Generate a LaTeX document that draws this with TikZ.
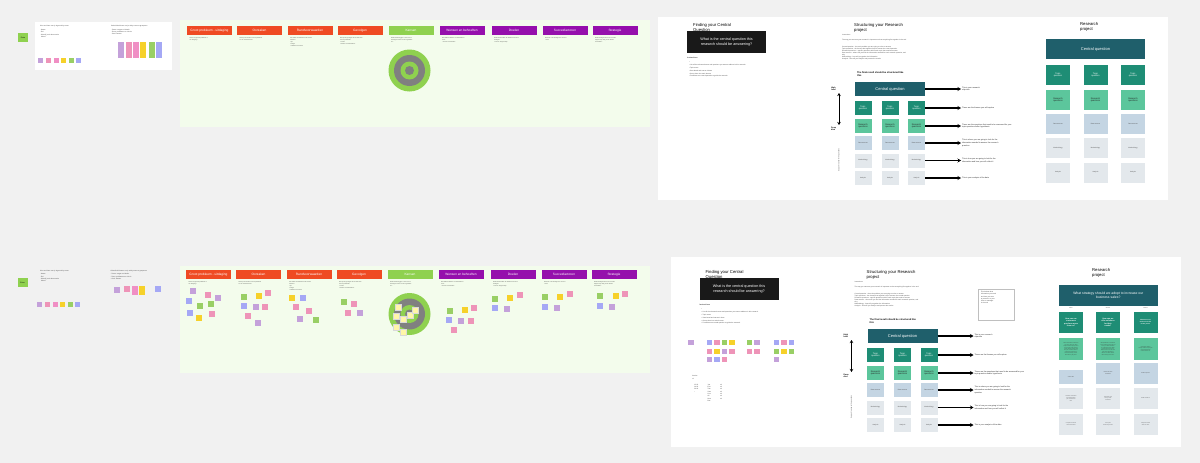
\documentclass[tikz,border=0pt]{standalone}
\usepackage{fontspec}
\setmainfont{Liberation Sans}
\usetikzlibrary{positioning,arrows.meta}

\definecolor{bg}{HTML}{F1F1F1}
\definecolor{panelgreen}{HTML}{F3FCEC}
\definecolor{hred}{HTML}{EF4B23}
\definecolor{hgreen}{HTML}{8FD14F}
\definecolor{hpurple}{HTML}{9510AC}
\definecolor{ringgrey}{HTML}{808080}
\definecolor{npurple}{HTML}{C4A1DA}
\definecolor{npink}{HTML}{EE94B8}
\definecolor{nhot}{HTML}{F08FC4}
\definecolor{nblue}{HTML}{A5A8F5}
\definecolor{ngreen}{HTML}{99CF65}
\definecolor{nyellow}{HTML}{F6D12A}
\definecolor{nlight}{HTML}{FFF6A8}
\definecolor{cqteal}{HTML}{1F5F6B}
\definecolor{tqteal}{HTML}{1E8D75}
\definecolor{rqgreen}{HTML}{5CC69C}
\definecolor{rowblue}{HTML}{C4D5E3}
\definecolor{rowgrey}{HTML}{E3E8EC}

\tikzset{
  hdr/.style={minimum width=45pt, minimum height=9.5pt, inner sep=0pt, text=white,
    font=\fontsize{3.2}{4}\selectfont},
  note/.style={minimum size=6pt, inner sep=0pt},
  tag/.style={fill=hgreen, minimum width=10pt, minimum height=9pt, inner sep=0pt,
    font=\fontsize{1.8}{2}\selectfont},
  tinytext/.style={font=\fontsize{1.6}{2.3}\selectfont, align=left, inner sep=0pt, text=black!75},
  arrowtext/.style={font=\fontsize{1.9}{2.9}\selectfont, align=left, inner sep=1pt, text=black!85},
  boardtitle/.style={font=\fontsize{4.2}{4.8}\selectfont, align=left, inner sep=0pt},
  cellbox/.style={minimum width=17pt, minimum height=14pt, inner sep=0pt, align=center,
    font=\fontsize{2.2}{2.7}\selectfont},
  bigcell/.style={cellbox, minimum width=24pt, minimum height=20pt},
  flow/.style={-{Stealth[length=3.5pt,width=4pt]}, line width=1.1pt},
}

% finding + structuring part, same on both boards
\newcommand{\structboard}[1]{%
  \node[boardtitle, anchor=north west] (#1find) at (693,23) {Finding your Central\\Question};
  \node[fill=black!90, minimum width=79pt, minimum height=22pt, inner sep=0pt, text=white,
    align=center, font=\fontsize{3.7}{4.7}\selectfont] (#1cqbox) at (726.5,42)
    {What is the central question this\\research should be answering?};
  \node[tinytext, anchor=north west, font=\bfseries\fontsize{1.8}{2.3}\selectfont] (#1instr) at (687,56.5) {Instructions};
  \node[tinytext, anchor=north west, font=\fontsize{1.6}{2.9}\selectfont] (#1steps) at (689,61.5)
    {•\\• List all the relevant themes and questions you want to address in this research\\• Topic areas\\• Start broad and narrow it down\\• Group them into main themes\\• Formulate one central question to guide the research};
  \node[boardtitle, anchor=north west] (#1struct) at (854,23) {Structuring your Research\\project};
  \node[tinytext, anchor=north west, font=\fontsize{1.6}{2.1}\selectfont] (#1sinstr) at (842,34.5)
    {Instructions\\[3pt]The way you structure your research is important so that everything fits together in the end\\[4pt]
     Central question - the main problem you are trying to solve or answer\\
     Topic questions - the themes that together help to answer the central question\\
     Research questions - specific questions within each topic that need an answer\\
     Data sources - where will you find the information needed for each research question, and\\why\\
     Methodology - how will you gather the information\\
     Analysis - how will you analyse and present the results};
  \node[anchor=north west, inner sep=0pt, align=left, font=\bfseries\fontsize{2.4}{2.9}\selectfont] (#1final) at (857,72)
    {The final result should be structured like\\this};
  \node[fill=cqteal, minimum width=70pt, minimum height=14pt, inner sep=0pt, text=white,
    font=\fontsize{4}{4.5}\selectfont] (#1cq) at (890,89) {Central question};
  \foreach \cl/\xx in {1/863,2/890,3/916.5} {
    \node[cellbox, fill=tqteal, text=white] (#1tq\cl) at (\xx,108) {Topic\\question};
    \node[cellbox, fill=rqgreen, text=black!85] (#1rq\cl) at (\xx,126) {Research\\questions};
    \node[cellbox, fill=rowblue, text=black!70, font=\fontsize{1.6}{2}\selectfont] (#1ds\cl) at (\xx,143) {Data sources};
    \node[cellbox, fill=rowgrey, text=black!70, font=\fontsize{1.6}{2}\selectfont] (#1mt\cl) at (\xx,160.5) {Methodology};
    \node[cellbox, fill=rowgrey, text=black!70, font=\fontsize{1.6}{2}\selectfont] (#1an\cl) at (\xx,178) {Analysis};
  }
  \node[arrowtext, anchor=west] (#1o1) at (961,89) {This is your research\\objective};
  \node[arrowtext, anchor=west] (#1o2) at (961,108) {These are the themes you will explore};
  \node[arrowtext, anchor=west] (#1o3) at (961,126) {These are the questions that need to be answered for your\\topic question and/or hypothesis};
  \node[arrowtext, anchor=west] (#1o4) at (961,143) {This is where you are going to look for the\\information needed to answer the research\\question};
  \node[arrowtext, anchor=west] (#1o5) at (961,160.5) {This is how you are going to look for the\\information and how you will collect it};
  \node[arrowtext, anchor=west] (#1o6) at (961,178) {This is your analysis of the data};
  \draw[flow] (#1cq.east) -- (#1o1.west);
  \draw[flow] (#1tq3.east) -- (#1o2.west);
  \draw[flow] (#1rq3.east) -- (#1o3.west);
  \draw[flow] (#1ds3.east) -- (#1o4.west);
  \draw[flow] (#1mt3.east) -- (#1o5.west);
  \draw[flow] (#1an3.east) -- (#1o6.west);
  \coordinate (#1top) at (839,93);
  \coordinate (#1bot) at (839,125);
  \draw[{Stealth[length=3pt,width=3.5pt]}-{Stealth[length=3pt,width=3.5pt]}, line width=1pt] (#1top) -- (#1bot);
  \node[anchor=north west, inner sep=0pt, align=left, font=\bfseries\fontsize{2}{2.5}\selectfont] (#1high) at (831,86.5) {High\\level};
  \node[anchor=north west, inner sep=0pt, align=left, font=\bfseries\fontsize{2}{2.5}\selectfont] (#1deep) at (831,126.5) {Deep\\dive};
  \node[tinytext, rotate=90] (#1side) at (839,160) {Support to answer the questions};
}

\begin{document}
\begin{tikzpicture}[x=1pt,y=-1pt]
\useasboundingbox[fill=bg] (0,0) rectangle (1200,463);

% left column
\fill[white] (35,22) rectangle (172,70);
\node[tag] (tagtop) at (23,37.5) {Extra};
\node[tag] (tagbot) at (22.5,282.5) {Extra};
\node[tinytext, anchor=north west] (introtop) at (40,25.5)
  {Kies een kleur voor je eigen sticky notes\\[1.5pt]- Naam\\- Rol\\- Wat wil je uit deze sessie\\\ \ halen?};
\node[tinytext, anchor=north west] (colourtop) at (111,25)
  {Gebruik de kleuren om je sticky notes te groeperen\\[1.5pt]- Paars: vragen en ideeën\\- Roze: problemen en risico's\\- Geel: kansen};
\node[tinytext, anchor=north west] (introbot) at (40,270)
  {Kies een kleur voor je eigen sticky notes\\[1.2pt]- Naam\\- Rol\\- Wat wil je uit deze sessie\\\ \ halen?};
\node[tinytext, anchor=north west] (colourbot) at (110.5,270)
  {Gebruik de kleuren om je sticky notes te groeperen\\[1.2pt]- Paars: vragen en ideeën\\- Roze: problemen en risico's\\- Geel: kansen};
\foreach \x/\nc [count=\k] in {40.5/npurple,48.5/npink,56/nhot,63.5/nyellow,71/ngreen,78.5/nblue} {
  \node[note, minimum size=5pt, fill=\nc] (ctop\k) at (\x,60.5) {};
  \node[note, minimum size=5pt, fill=\nc] (cbot\k) at (\x-1,304.5) {};
}
\foreach \x/\nc [count=\k] in {120.5/npurple,129/npink,136/nhot,143/nyellow,151.5/ngreen,159/nblue} {
  \node[note, minimum width=6pt, minimum height=16pt, fill=\nc] (bar\k) at (\x,50) {};
}
\node[note, fill=npurple] (lb1) at (117,290) {};
\node[note, fill=npink] (lb2) at (127,289) {};
\node[note, minimum height=9pt, fill=nhot] (lb3) at (135,290.5) {};
\node[note, minimum height=9pt, fill=nyellow] (lb4) at (142,290.5) {};
\node[note, fill=nblue] (lb5) at (157.5,289) {};

% workshop boards
\fill[panelgreen] (180,20) rectangle (650,127);
\fill[panelgreen] (180,266) rectangle (650,373);
\foreach \p/\dx/\dy in {t/0/0,b/-1/244} {
  \foreach \i/\x/\hc/\name/\desc in {
    1/209.5/hred/Groot probleem - uitdaging/{Wat is het grootste probleem of\\de uitdaging?},
    2/259.5/hred/Oorzaken/{Wat zijn de oorzaken van het probleem\\en hoe ontstaan deze?},
    3/310/hred/Randvoorwaarden/{Aan welke voorwaarden moet worden\\voldaan?\\- tijd\\- budget\\- middelen en mensen},
    4/360/hred/Gevolgen/{Wat zijn de gevolgen als we niets doen\\aan het probleem?\\- kosten\\- klanten en medewerkers},
    5/411/hgreen/Kansen/{Welke kansen liggen er voor ons en\\waar ligt de focus van de organisatie\\nu?},
    6/462/hpurple/Wensen en behoeften/{Wat willen de klanten en medewerkers\\echt?\\- wensen en behoeften},
    7/514/hpurple/Doelen/{Welke doelen willen we bereiken met deze\\strategie?\\- korte en lange termijn},
    8/565/hpurple/Succesfactoren/{Wanneer is de strategie een succes?\\- KPI's},
    9/615/hpurple/Strategie/{Welke strategie kiezen we en welke\\stappen zijn nodig om de doelen\\te bereiken?}} {
    \node[hdr, fill=\hc] (\p h\i) at ({\x+\dx},{30.5+\dy}) {\name};
    \node[tinytext, anchor=north west, font=\fontsize{1.3}{1.9}\selectfont] (\p d\i) at ({\x+\dx-20},{37.5+\dy}) {\desc};
  }
}
% target
\foreach \cy in {70.5,314} {
  \fill[hgreen] (409.5,\cy) circle[radius=21pt];
  \fill[ringgrey] (409.5,\cy) circle[radius=15.5pt];
  \fill[hgreen] (409.5,\cy) circle[radius=9pt];
  \fill[ringgrey] (409.5,\cy) circle[radius=4.5pt];
}
\foreach \x/\y/\nc [count=\k] in {
  193/291/npurple, 208/295/npink, 218/298/npurple, 189/301/nblue, 211/304/ngreen,
  200/306/ngreen, 190/313/nblue, 212/314/npink, 199/318/nyellow,
  244/297/ngreen, 259/296/nyellow, 268/293/npink, 244/306/nblue, 256/307/npurple,
  265/307/npink, 248/316/npink, 258/323/npurple,
  292/298/nyellow, 303/298/nblue, 296/307/npink, 309/311/npink, 300/319/npurple, 316/320/ngreen,
  344/302/ngreen, 354/304/npink, 348/313/npink, 360/313/npurple,
  450/311/ngreen, 465/310/nyellow, 474/308/npink, 449/320/nblue, 461/321/npurple,
  471/321/npink, 454/330/npink,
  495/299/ngreen, 510/298/nyellow, 520/295/npink, 495/308/nblue, 507/309/npurple,
  545/297/ngreen, 560/297/nyellow, 570/294/npink, 545/307/nblue, 557/308/npurple,
  600/296/ngreen, 616/296/nyellow, 625/294/npink, 600/306/nblue, 612/307/npurple} {
  \node[note, fill=\nc] (pn\k) at (\x,\y) {};
}
\foreach \x/\y [count=\k] in {398/307, 396/316, 403/319, 410/315, 415/310, 396/327, 403/332} {
  \node[note, fill=nlight, draw=black!15, line width=0.2pt] (tn\k) at (\x,\y) {};
}

% research boards
\fill[white] (658,17) rectangle (1168,200);
\fill[white] (671,257) rectangle (1181,447);
\structboard{a}
\begin{scope}[shift={(12.5,247)}]
  \structboard{b}
\end{scope}

% research project, top
\node[boardtitle, anchor=north west] (rptitle) at (1080,22) {Research\\project};
\node[fill=cqteal, minimum width=99pt, minimum height=20pt, inner sep=0pt, text=white,
  font=\fontsize{4}{4.5}\selectfont] (rpcq) at (1095.5,49) {Central question};
\foreach \cl/\xx in {1/1058,2/1095.5,3/1133} {
  \node[bigcell, fill=tqteal, text=white] (rptq\cl) at (\xx,75) {Topic\\question};
  \node[bigcell, fill=rqgreen, text=black!85] (rprq\cl) at (\xx,100) {Research\\questions};
  \node[bigcell, fill=rowblue, text=black!70, font=\fontsize{1.6}{2}\selectfont] (rpds\cl) at (\xx,124) {Data sources};
  \node[bigcell, fill=rowgrey, text=black!70, font=\fontsize{1.6}{2}\selectfont] (rpmt\cl) at (\xx,148) {Methodology};
  \node[bigcell, fill=rowgrey, text=black!70, font=\fontsize{1.6}{2}\selectfont] (rpan\cl) at (\xx,172.5) {Analysis};
}

% bottom board extras
\foreach \x/\y/\nc [count=\k] in {
  690.8/342.6/npurple, 709.6/342.6/nblue, 717.2/342.6/npink, 724.5/342.6/ngreen, 731.8/342.6/nyellow,
  749.5/342.6/ngreen, 757.2/342.6/npurple, 776.3/342.6/nblue, 784/342.6/npink, 791.3/342.6/nblue,
  709.6/351.3/npink, 717.2/351.3/nyellow, 724.5/351.3/npurple, 731.8/351.3/npink,
  749.5/351.3/npink, 757.2/351.3/npink, 776.3/351.3/ngreen, 784/351.3/nyellow, 791.3/351.3/ngreen,
  709.6/359.3/npurple, 717.2/359.3/nblue, 724.5/359.3/npink, 776.3/359.3/npurple} {
  \node[note, minimum size=5.6pt, fill=\nc] (bn\k) at (\x,\y) {};
}
\node[tinytext, anchor=north west] (versions) at (692,375.5) {Versies\\v1};
\node[tinytext, anchor=north west] (vcol1) at (694,384) {12-03\\14-03\\20-03\\--};
\node[tinytext, anchor=north west] (vcol2) at (707.5,384) {Jan\\Eva\\Tom\\Sam\\Lisa\\Ali\\Noor\\Bas};
\node[tinytext, anchor=north west] (vcol3) at (720,384) {ok\\ok\\ok\\ok\\ok\\ok\\ok};
\node[draw=black!25, line width=0.3pt, fill=white, minimum width=35.7pt, minimum height=31.3pt,
  inner sep=0pt] (memo) at (995.8,304.4) {};
\node[tinytext, below right=2.5pt and 3pt of memo.north west, anchor=north west] (memotxt)
  {Think about what\\information you need\\and how you want\\to present it to your\\client or manager\\in the end};

% research project, bottom
\node[boardtitle, anchor=north west] (rp2title) at (1092,268) {Research\\project};
\node[fill=cqteal, minimum width=98.6pt, minimum height=20.5pt, inner sep=0pt, text=white, align=center,
  font=\fontsize{3.4}{4.4}\selectfont] (rp2cq) at (1108.3,295.3)
  {What strategy should we adopt to increase our\\business sales?};
\foreach \cl/\xx/\lab in {1/1071/Sales,2/1108/Service,3/1145.6/Market} {
  \node[tinytext, font=\fontsize{1.3}{1.6}\selectfont] (rp2lab\cl) at (\xx,308.3) {\lab};
}
\node[bigcell, minimum height=21.5pt, fill=tqteal, text=white, font=\bfseries\fontsize{1.9}{2.5}\selectfont] (rp2tq1) at (1071,322.5) {How can our\\customers\\purchase more\\from us?};
\node[bigcell, minimum height=21.5pt, fill=tqteal, text=white, font=\bfseries\fontsize{1.9}{2.5}\selectfont] (rp2tq2) at (1108,322.5) {How can we\\offer solutions\\for their\\needs?};
\node[bigcell, minimum height=21.5pt, fill=tqteal, text=white, font=\bfseries\fontsize{1.5}{2}\selectfont] (rp2tq3) at (1145.6,322.5) {What does our\\market look like\\in two years?};
\node[bigcell, minimum height=21.5pt, fill=rqgreen, text=black!80, font=\fontsize{1.1}{1.45}\selectfont] (rp2rq1) at (1071,349.2)
  {Which channels do customers\\use to buy from us? What\\stops them from buying more?\\How can we make ordering\\easier? Which products sell\\best per channel? What do\\customers say about us?\\How often do they return?\\What do they buy next?};
\node[bigcell, minimum height=21.5pt, fill=rqgreen, text=black!80, font=\fontsize{1.1}{1.45}\selectfont] (rp2rq2) at (1108,349.2)
  {What problems do customers\\have? Which needs do we not\\meet yet? Which solutions\\do competitors offer? What\\would customers pay for?\\Which services can we add?\\How do we measure it?\\Who are our best clients?\\What do they need next?};
\node[bigcell, minimum height=21.5pt, fill=rqgreen, text=black!80, font=\fontsize{1.1}{1.45}\selectfont] (rp2rq3) at (1145.6,349.2)
  {How will the market\\change? Which new players\\enter? What trends\\matter most for us?};
\node[bigcell, minimum height=13.9pt, fill=rowblue, text=black!70, font=\fontsize{1.3}{1.8}\selectfont] (rp2ds1) at (1071,376.7) {Sales data};
\node[bigcell, minimum height=20.8pt, fill=rowblue, text=black!70, font=\fontsize{1.3}{1.8}\selectfont] (rp2ds2) at (1108,373.2) {Interviews with\\customers};
\node[bigcell, minimum height=21pt, fill=rowblue, text=black!70, font=\fontsize{1.3}{1.8}\selectfont] (rp2ds3) at (1145.6,373.5) {Market reports};
\node[bigcell, minimum height=21pt, fill=rowgrey, text=black!70, font=\fontsize{1.2}{1.7}\selectfont] (rp2mt1) at (1071,398.5) {Customer interviews\\and sales figures\\per channel over\\time};
\node[bigcell, minimum height=21pt, fill=rowgrey, text=black!70, font=\fontsize{1.2}{1.7}\selectfont] (rp2mt2) at (1108,398.5) {Interviews and\\surveys with\\customers};
\node[bigcell, minimum height=21pt, fill=rowgrey, text=black!70, font=\fontsize{1.3}{1.8}\selectfont] (rp2mt3) at (1145.6,398.5) {Desk research};
\node[bigcell, minimum height=21pt, fill=rowgrey, text=black!70, font=\fontsize{1.2}{1.7}\selectfont] (rp2an1) at (1071,424) {Compare channels\\and find the best};
\node[bigcell, minimum height=21pt, fill=rowgrey, text=black!70, font=\fontsize{1.2}{1.7}\selectfont] (rp2an2) at (1108,424) {Group the\\answers by theme};
\node[bigcell, minimum height=21pt, fill=rowgrey, text=black!70, font=\fontsize{1.2}{1.7}\selectfont] (rp2an3) at (1145.6,424) {Compare market\\data over time};
\end{tikzpicture}
\end{document}
